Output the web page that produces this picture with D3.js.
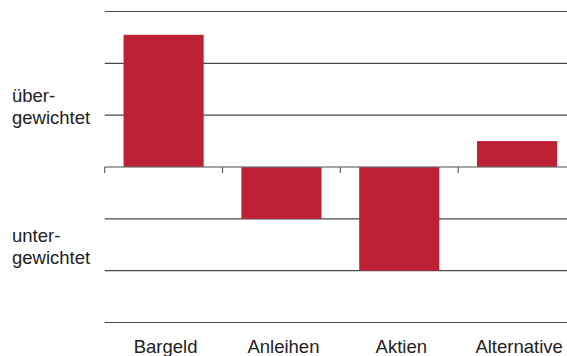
<!DOCTYPE html>
<html>
<head>
<meta charset="utf-8">
<script src="https://cdn.jsdelivr.net/npm/d3@7"></script>
<style>
  html, body { margin: 0; padding: 0; background: #fff; }
  svg { display: block; }
  text { font-family: "Liberation Sans", Arial, sans-serif; }
</style>
</head>
<body>
<svg id="chart" width="567" height="356"></svg>
<script>
// Asset classes and their over/underweight scores
const categories = ["Bargeld", "Anleihen", "Aktien", "Alternative"];
const values = [2.55, -1, -2, 0.5];
const gridValues = [-3, -2, -1, 0, 1, 2, 3];
const overLabel = ["über-", "gewichtet"];
const underLabel = ["unter-", "gewichtet"];

const W = 567, H = 356;
const svg = d3.select("#chart");

const x = d3.scaleBand()
  .domain(categories)
  .range([104.7, 576])
  .paddingInner(0.32)
  .paddingOuter(0.16);

const y = d3.scaleLinear().domain([-3, 3]).range([322.5, 11.5]);

// horizontal grid lines (zero line is drawn later as the axis)
svg.append("g")
  .selectAll("line")
  .data(gridValues.filter(v => v !== 0))
  .join("line")
  .attr("x1", 104.7).attr("x2", W)
  .attr("y1", d => y(d)).attr("y2", d => y(d))
  .attr("stroke", "#4a4a4a")
  .attr("stroke-width", 1.1);

// bars
svg.append("g")
  .selectAll("rect")
  .data(categories)
  .join("rect")
  .attr("x", d => x(d))
  .attr("width", x.bandwidth())
  .attr("y", (d, i) => Math.min(y(values[i]), y(0)))
  .attr("height", (d, i) => Math.abs(y(values[i]) - y(0)))
  .attr("fill", "#be2134");

// zero axis with tick marks at category boundaries
const axis = svg.append("g");
axis.append("line")
  .attr("x1", 104.7).attr("x2", W)
  .attr("y1", y(0)).attr("y2", y(0))
  .attr("stroke", "#6a6a6a")
  .attr("stroke-opacity", 0.8)
  .attr("stroke-width", 1.3);
axis.selectAll("line.tick")
  .data(categories)
  .join("line")
  .attr("class", "tick")
  .attr("x1", d => x(d) - x.step() * x.paddingOuter())
  .attr("x2", d => x(d) - x.step() * x.paddingOuter())
  .attr("y1", y(0)).attr("y2", y(0) + 6)
  .attr("stroke", "#555")
  .attr("stroke-width", 1.1);

// category labels
svg.append("g")
  .selectAll("text")
  .data(categories)
  .join("text")
  .attr("x", d => x(d) + x.bandwidth() / 2 + 2)
  .attr("y", 352.5)
  .attr("text-anchor", "middle")
  .attr("font-size", 18.5)
  .attr("fill", "#222")
  .text(d => d);

// side labels
function sideLabel(lines, baseY) {
  svg.append("g")
    .selectAll("text")
    .data(lines)
    .join("text")
    .attr("x", 12)
    .attr("y", (d, i) => baseY + i * 22.5)
    .attr("font-size", 18.5)
    .attr("fill", "#222")
    .text(d => d);
}
sideLabel(overLabel, y(1) - 13.5);
sideLabel(underLabel, y(-1) + 23);
</script>
</body>
</html>
